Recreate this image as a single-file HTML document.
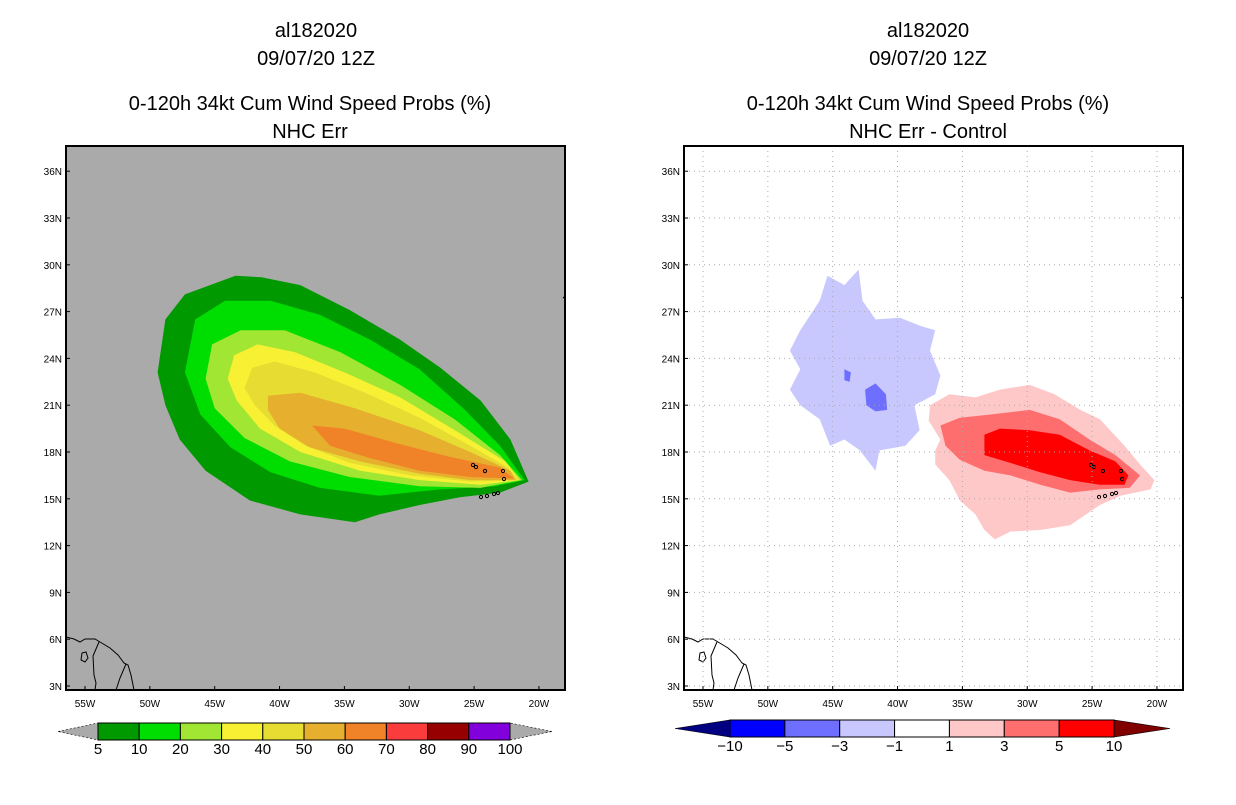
<!DOCTYPE html>
<html><head><meta charset="utf-8"><style>
body{margin:0;background:#fff;width:1236px;height:800px;overflow:hidden;font-family:"Liberation Sans",sans-serif}
svg text{font-family:"Liberation Sans",sans-serif}
</style></head><body>
<svg id="s" width="1236" height="800">
<g font-size="20" text-anchor="middle" fill="#000">
<text x="316" y="37">al182020</text>
<text x="316" y="65">09/07/20 12Z</text>
<text x="310" y="110">0-120h 34kt Cum Wind Speed Probs (%)</text>
<text x="310" y="138">NHC Err</text>
<text x="928" y="37">al182020</text>
<text x="928" y="65">09/07/20 12Z</text>
<text x="928" y="110">0-120h 34kt Cum Wind Speed Probs (%)</text>
<text x="928" y="138">NHC Err - Control</text>
</g>
</svg>
<script>
const latTicks=[3,6,9,12,15,18,21,24,27,30,33,36];
const lonTicks=[55,50,45,40,35,30,25,20];
const probLevels=[5,10,20,30,40,50,60,70,80,90,100];
const probColors=['#009900','#00dd00','#a0e632','#f8f032','#e6dc32','#e6af2d','#f08228','#fa3c3c','#960000','#8200dc'];
const diffLevels=['-10','-5','-3','-1','1','3','5','10'];
const diffColors=['#0000ff','#6e6eff','#c8c8ff','#ffffff','#ffc8c8','#ff6e6e','#ff0000'];
const p5=[[49.4,23.1],[48.8,26.5],[47.3,28.1],[43.4,29.3],[41.4,29.2],[38.4,28.7],[34.6,27.1],[30.7,25.2],[27.6,23.4],[24.5,21.3],[22.2,18.8],[20.8,16.1],[23.0,15.4],[26.1,15.1],[29.2,14.6],[32.3,14.0],[34.2,13.5],[38.4,14.0],[42.3,14.9],[45.7,16.8],[47.7,18.8],[48.8,21.0]];
const p10=[[47.3,23.1],[46.5,26.5],[44.2,27.7],[40.7,27.7],[36.9,26.8],[33.0,25.2],[29.2,23.3],[25.7,20.7],[23.0,18.4],[21.1,16.2],[23.4,15.8],[27.6,15.6],[32.3,15.2],[36.9,15.7],[40.7,16.7],[43.8,18.3],[46.1,20.4]];
const p20=[[45.7,22.7],[45.2,24.9],[43.0,25.8],[39.6,25.8],[35.3,24.4],[30.7,22.3],[26.5,20.1],[23.0,17.8],[21.3,16.2],[24.5,15.7],[29.2,15.8],[34.6,16.4],[39.2,17.4],[42.7,18.9],[45.0,20.8]];
const p30=[[44.0,22.7],[43.5,24.2],[41.7,24.9],[38.8,24.4],[35.0,23.1],[30.7,21.5],[26.1,19.2],[22.6,17.4],[21.5,16.2],[24.5,15.9],[29.2,16.2],[33.8,16.8],[38.4,18.0],[41.5,19.5],[43.3,21.3]];
const p40=[[42.7,22.1],[42.1,23.4],[40.4,23.8],[37.3,23.1],[33.4,21.8],[29.2,20.2],[25.3,18.4],[22.4,17.0],[21.6,16.2],[25.3,16.1],[29.9,16.5],[34.6,17.3],[38.0,18.4],[40.4,19.7],[41.9,21.0]];
const p50=[[40.9,21.6],[38.4,21.8],[34.2,20.8],[29.2,19.4],[25.3,18.0],[22.2,16.8],[21.8,16.2],[25.3,16.2],[29.2,16.6],[33.8,17.4],[37.7,18.3],[40.0,19.5],[40.9,20.7]];
const p60=[[37.5,19.7],[35.0,19.5],[30.7,18.5],[26.9,17.7],[23.0,17.0],[21.9,16.3],[25.3,16.4],[29.2,16.8],[33.0,17.6],[36.1,18.4]];
const dNeg1=[[47.5,25.8],[46.0,27.7],[45.4,29.3],[44.1,28.7],[43.0,29.7],[42.7,27.7],[41.7,26.5],[39.8,26.6],[38.3,26.1],[37.1,25.8],[37.5,24.5],[36.7,22.9],[37.1,21.7],[38.7,21.0],[38.3,19.4],[39.4,18.4],[41.4,18.1],[41.7,16.8],[42.9,18.1],[44.1,18.8],[45.2,18.4],[46.0,20.1],[47.5,21.0],[48.3,22.0],[47.5,23.3],[48.3,24.5]];
const dNeg3a=[[42.5,22.0],[41.7,22.4],[40.9,21.7],[40.8,20.7],[41.7,20.6],[42.4,21.0]];
const dNeg3b=[[44.1,23.3],[43.6,23.1],[43.7,22.5],[44.1,22.6]];
const dPos1=[[37.5,21.0],[36.0,21.7],[34.0,21.5],[32.1,22.0],[29.8,22.3],[27.9,21.7],[25.9,20.7],[24.4,20.1],[22.5,18.4],[21.3,17.2],[20.2,16.2],[20.5,15.6],[22.8,15.2],[24.4,14.6],[26.7,13.3],[29.0,13.0],[31.3,12.9],[32.5,12.4],[33.3,13.0],[34.0,14.0],[35.2,14.9],[36.0,16.2],[37.1,17.2],[37.1,18.1],[36.7,18.8],[37.6,20.0]];
const dPos3=[[36.7,19.7],[35.2,20.2],[32.9,20.4],[29.8,20.7],[27.5,20.1],[25.2,18.8],[23.2,17.8],[21.3,16.5],[22.1,15.7],[24.4,15.6],[26.7,15.4],[29.0,15.9],[31.3,16.5],[33.3,16.8],[35.2,17.5],[36.3,18.4]];
const dPos5=[[33.3,19.1],[32.1,19.5],[29.8,19.4],[27.5,19.1],[25.2,18.1],[23.2,17.4],[22.2,16.5],[22.5,15.9],[24.4,15.9],[26.7,16.2],[29.0,16.7],[31.3,17.3],[33.3,17.8]];

const NS='http://www.w3.org/2000/svg';
const svg=document.getElementById('s');
function mk(tag,attrs,parent){const e=document.createElementNS(NS,tag);for(const k in attrs)e.setAttribute(k,attrs[k]);(parent||svg).appendChild(e);return e;}
const Y0=146,Y1=690;
function yS(lat){return 686-(lat-3)*15.6;}
function xS(off){return lon=>85+off+(55-lon)*12.97;}
function poly(pts,fill,off,g){return mk('polygon',{points:pts.map(p=>xS(off)(p[0]).toFixed(1)+','+yS(p[1]).toFixed(1)).join(' '),fill:fill},g);}

function panel(off,bg,grid,name){
  const g=mk('g',{});
  
  
  const clip=mk('clipPath',{id:'c'+off},g);mk('rect',{x:66+off,y:Y0,width:499,height:Y1-Y0},clip);
  const bgr=mk('rect',{x:66+off,y:Y0,width:499,height:Y1-Y0,fill:bg},g);
  
  
  const inner=mk('g',{'clip-path':'url(#c'+off+')'},g);
  return {g,inner};
}
function axes(off,g,grid){
  const X=xS(off);
  latTicks.forEach(l=>{
    const y=yS(l);
    if(grid){const gl=mk('line',{x1:66+off,x2:565+off,y1:y,y2:y,stroke:'#aaa','stroke-dasharray':'1,4'},g);}
    mk('line',{x1:66+off,x2:70+off,y1:y,y2:y,stroke:'#000'},g);
    const t=mk('text',{x:62+off,y:y+4,'font-size':10,'text-anchor':'end'},g);t.textContent=l+'N';
    
    
  });
  lonTicks.forEach(l=>{
    const x=X(l);
    if(grid){const gl=mk('line',{x1:x,x2:x,y1:Y0,y2:Y1,stroke:'#aaa','stroke-dasharray':'1,4'},g);}
    mk('line',{x1:x,x2:x,y1:Y1,y2:Y1-4,stroke:'#000'},g);
    const t=mk('text',{x:x,y:707,'font-size':10,'text-anchor':'middle'},g);t.textContent=l+'W';
    
    
  });
}
function coast(off,g){
  const c=mk('g',{fill:'none',stroke:'#000','stroke-width':1},g);
  
  
  const o=off;
  mk('path',{d:`M${66+o},637 L${74+o},639 L${80+o},642 L${85+o},639 L${95+o},639 L${100+o},642 L${110+o},648 L${118+o},655 L${124+o},663 L${128+o},665 L${131+o},675 L${134+o},690`},c);
  mk('path',{d:`M${99+o},642 L${93+o},656 L${94+o},675 L${96+o},683 L${95+o},690`},c);
  mk('path',{d:`M${126+o},664 L${120+o},678 L${116+o},690`},c);
  mk('path',{d:`M${82+o},653 L${86+o},652 L${88+o},658 L${85+o},662 L${81+o},660 Z`},c);
  [[473,465],[476,467],[485,471],[503,471],[504,479],[481,497],[487,496],[494,494],[498,493]].forEach(p=>mk('circle',{cx:p[0]+o,cy:p[1],r:1.6},c));
  mk('line',{x1:563+o,y1:297,x2:565+o,y2:299},c);
}
function frame(off,g){const f=mk('rect',{x:66+off,y:Y0,width:499,height:Y1-Y0,fill:'none',stroke:'#000','stroke-width':2},g);}

// left panel
const L=panel(0,'#aaaaaa',false,'left-map-panel');
[p5,p10,p20,p30,p40,p50,p60].forEach((p,i)=>{const e=poly(p,probColors[i],0,L.inner);});
coast(0,L.inner);axes(0,L.g,false);frame(0,L.g);
// right panel
const R=panel(618,'#ffffff',true,'right-map-panel');
axes(618,R.g,true);
[[dNeg1,2],[dNeg3a,1],[dNeg3b,1],[dPos1,4],[dPos3,5],[dPos5,6]].forEach(([p,ci])=>{const e=poly(p,diffColors[ci],618,R.inner);});
coast(618,R.inner);frame(618,R.g);

// colorbars
function colorbar(x0,x1,t0,t1,y0,y1,cols,labels,lc,rc,name){
  const g=mk('g',{});
  
  
  const ym=(y0+y1)/2;
  mk('polygon',{points:`${t0},${ym} ${x0},${y0} ${x0},${y1}`,fill:lc,stroke:'#000','stroke-width':0.6,'stroke-dasharray':lc=='#aaaaaa'?'2,2':''},g);
  mk('polygon',{points:`${t1},${ym} ${x1},${y0} ${x1},${y1}`,fill:rc,stroke:'#000','stroke-width':0.6,'stroke-dasharray':rc=='#aaaaaa'?'2,2':''},g);
  const w=(x1-x0)/cols.length;
  cols.forEach((c,i)=>{const r=mk('rect',{x:x0+i*w,y:y0,width:w,height:y1-y0,fill:c,stroke:'#000','stroke-width':1},g);});
  labels.forEach((l,i)=>{const t=mk('text',{x:x0+i*w,y:y1+14,'font-size':15,'text-anchor':'middle'},g);t.textContent=l.replace('-','\u2212');});
}
colorbar(98,510,58,552,723,740,probColors,probLevels.map(String),'#aaaaaa','#aaaaaa','left-colorbar');
colorbar(730,1114,675,1170,720,737,diffColors,diffLevels,'#000080','#800000','right-colorbar');
</script>
</body></html>
